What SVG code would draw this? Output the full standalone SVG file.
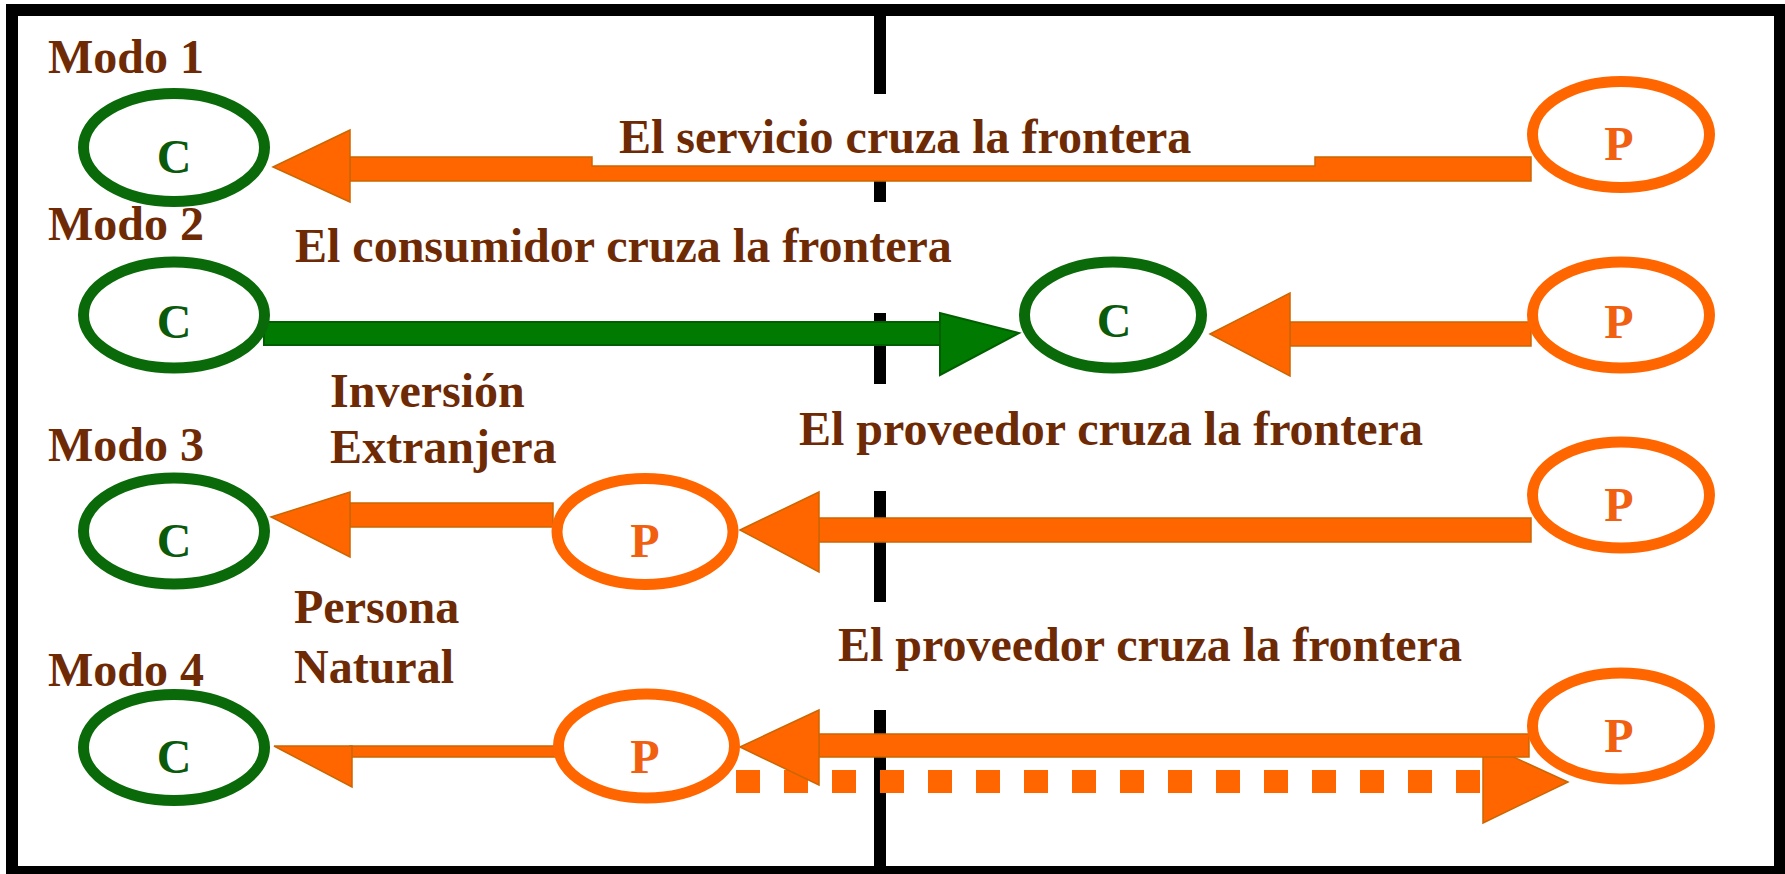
<svg xmlns="http://www.w3.org/2000/svg" width="1785" height="874" viewBox="0 0 1785 874">
<style>
.lbl{font-family:"Liberation Serif","Times New Roman",serif;font-weight:bold;font-size:48px;fill:#6e2a05}
.c-ell{fill:none;stroke:#0a6a0a;stroke-width:11}
.p-ell{fill:none;stroke:#ff6600;stroke-width:11}
.c-txt{font-family:"Liberation Serif","Times New Roman",serif;font-weight:bold;font-size:48px;fill:#0b5a0b;text-anchor:middle}
.p-txt{font-family:"Liberation Serif","Times New Roman",serif;font-weight:bold;font-size:48px;fill:#f06010;text-anchor:middle}
.or{fill:#ff6600;stroke:#cc6600;stroke-width:1.5}
.gr{fill:#007a00;stroke:#005f00;stroke-width:2}
.div{fill:#000}
</style>
<rect x="0" y="0" width="1785" height="874" fill="#fff"/>
<rect x="12" y="10" width="1768" height="862" fill="none" stroke="#000" stroke-width="12"/>

<g id="border-line">
<rect class="div" x="874" y="16" width="12" height="78"/>
<rect class="div" x="874" y="166" width="12" height="36"/>
<rect class="div" x="874" y="313" width="12" height="71"/>
<rect class="div" x="874" y="491" width="12" height="111"/>
<rect class="div" x="874" y="710" width="12" height="156"/>
</g>

<g id="labels">
<text class="lbl" x="48" y="73">Modo 1</text>
<text class="lbl" x="48" y="240">Modo 2</text>
<text class="lbl" x="48" y="461">Modo 3</text>
<text class="lbl" x="48" y="686">Modo 4</text>
<text class="lbl" x="619" y="153">El servicio cruza la frontera</text>
<text class="lbl" x="295" y="262">El consumidor cruza la frontera</text>
<text class="lbl" x="330" y="407">Inversión</text>
<text class="lbl" x="330" y="463">Extranjera</text>
<text class="lbl" x="799" y="445">El proveedor cruza la frontera</text>
<text class="lbl" x="294" y="623">Persona</text>
<text class="lbl" x="294" y="683">Natural</text>
<text class="lbl" x="838" y="661">El proveedor cruza la frontera</text>
</g>

<g id="connectors">
<!-- Modo 1 -->
<path class="or" d="M350,157 H592 V166 H1315 V157 H1531 V181 H350 Z"/>
<polygon class="or" points="273,167 350,130 350,202"/>
<!-- Modo 2 -->
<rect class="gr" x="264" y="322" width="676" height="23"/>
<polygon class="gr" points="940,313 940,375 1019,333"/>
<rect class="or" x="1290" y="322" width="241" height="24"/>
<polygon class="or" points="1210,334 1290,293 1290,376"/>
<!-- Modo 3 -->
<rect class="or" x="819" y="518" width="712" height="24"/>
<polygon class="or" points="740,530 819,492 819,572"/>
<rect class="or" x="350" y="503" width="203" height="24"/>
<polygon class="or" points="271,517 350,492 350,557"/>
<!-- Modo 4 -->
<line x1="736" y1="781.5" x2="1484" y2="781.5" stroke="#ff6600" stroke-width="23" stroke-dasharray="24 24"/>
<polygon class="or" points="1483,743 1568,782 1483,823"/>
<rect class="or" x="819" y="734" width="710" height="23"/>
<polygon class="or" points="740,747 819,710 819,785"/>
<rect class="or" x="350" y="746" width="207" height="11"/>
<polygon class="or" points="274,746 352,746 352,787"/>
</g>

<g id="m1-c"><ellipse class="c-ell" cx="174" cy="147.5" rx="90.5" ry="54"/><text class="c-txt" x="174" y="173">C</text></g>
<g id="m1-p"><ellipse class="p-ell" cx="1621" cy="134.5" rx="88.5" ry="53"/><text class="p-txt" x="1619" y="160">P</text></g>

<g id="m2-c"><ellipse class="c-ell" cx="174" cy="315" rx="90.5" ry="53"/><text class="c-txt" x="174" y="338">C</text></g>
<g id="m2-c2"><ellipse class="c-ell" cx="1113" cy="315" rx="88.5" ry="53"/><text class="c-txt" x="1114" y="337">C</text></g>
<g id="m2-p"><ellipse class="p-ell" cx="1621" cy="315" rx="88.5" ry="53"/><text class="p-txt" x="1619" y="338">P</text></g>

<g id="m3-c"><ellipse class="c-ell" cx="174" cy="531" rx="90.5" ry="53"/><text class="c-txt" x="174" y="557">C</text></g>
<g id="m3-p2"><ellipse class="p-ell" cx="645" cy="531.5" rx="88" ry="53"/><text class="p-txt" x="645" y="557">P</text></g>
<g id="m3-p"><ellipse class="p-ell" cx="1621" cy="495" rx="88.5" ry="53"/><text class="p-txt" x="1619" y="521">P</text></g>

<g id="m4-c"><ellipse class="c-ell" cx="174" cy="747.5" rx="90.5" ry="53"/><text class="c-txt" x="174" y="773">C</text></g>
<g id="m4-p2"><ellipse class="p-ell" cx="646.5" cy="746" rx="88" ry="52"/><text class="p-txt" x="645" y="773">P</text></g>
<g id="m4-p"><ellipse class="p-ell" cx="1621" cy="726" rx="88.5" ry="53"/><text class="p-txt" x="1619" y="752">P</text></g>
</svg>
